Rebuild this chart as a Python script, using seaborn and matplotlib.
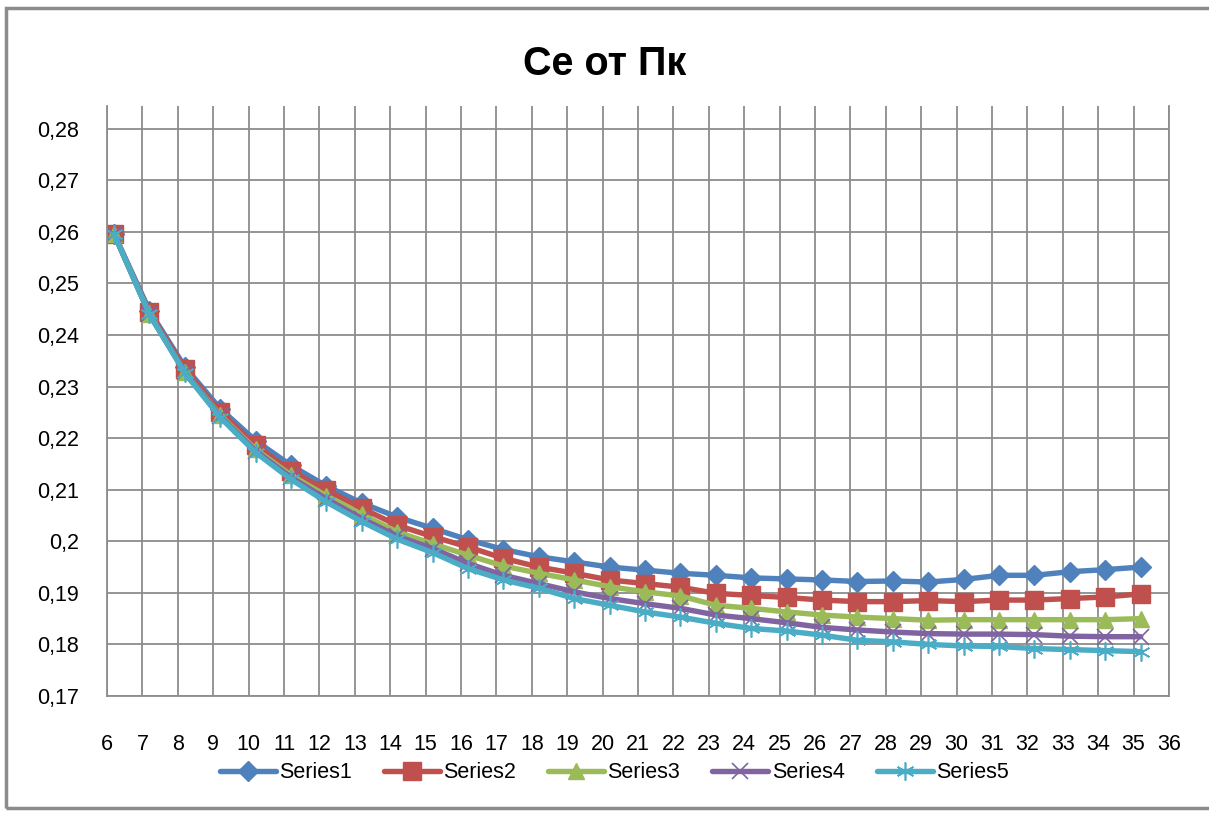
import numpy as np
import pandas as pd
import matplotlib
matplotlib.use("Agg")
import matplotlib.pyplot as plt
from matplotlib.lines import Line2D
from matplotlib.patches import Rectangle
import seaborn as sns

# ---- data ----
pk = [6.2, 7.2, 8.2, 9.2, 10.2, 11.2, 12.2, 13.2, 14.2, 15.2,
      16.2, 17.2, 18.2, 19.2, 20.2, 21.2, 22.2, 23.2, 24.2, 25.2,
      26.2, 27.2, 28.2, 29.2, 30.2, 31.2, 32.2, 33.2, 34.2, 35.2]

series1 = [0.2596, 0.2447, 0.2338, 0.2257, 0.2195, 0.2147, 0.2107, 0.2074, 0.2047, 0.2025,
           0.2003, 0.1984, 0.1970, 0.1960, 0.1950, 0.1944, 0.1938, 0.1934, 0.1929, 0.1927,
           0.1925, 0.1922, 0.1923, 0.1921, 0.1926, 0.1934, 0.1934, 0.1941, 0.1945, 0.1950]
series2 = [0.2596, 0.2444, 0.2334, 0.2250, 0.2186, 0.2136, 0.2099, 0.2064, 0.2031, 0.2009,
           0.1989, 0.1967, 0.1950, 0.1938, 0.1925, 0.1918, 0.1911, 0.1899, 0.1895, 0.1891,
           0.1886, 0.1883, 0.1883, 0.1885, 0.1883, 0.1886, 0.1886, 0.1889, 0.1892, 0.1898]
series3 = [0.2596, 0.2440, 0.2328, 0.2244, 0.2178, 0.2128, 0.2088, 0.2052, 0.2018, 0.1995,
           0.1973, 0.1952, 0.1938, 0.1925, 0.1912, 0.1902, 0.1894, 0.1876, 0.1870, 0.1863,
           0.1857, 0.1853, 0.1850, 0.1847, 0.1848, 0.1848, 0.1848, 0.1848, 0.1848, 0.1850]
series4 = [0.2596, 0.2440, 0.2328, 0.2242, 0.2175, 0.2124, 0.2082, 0.2044, 0.2010, 0.1986,
           0.1957, 0.1934, 0.1918, 0.1902, 0.1889, 0.1879, 0.1870, 0.1857, 0.1850, 0.1842,
           0.1833, 0.1828, 0.1824, 0.1821, 0.1820, 0.1820, 0.1819, 0.1816, 0.1815, 0.1815]
series5 = [0.2596, 0.2440, 0.2326, 0.2240, 0.2172, 0.2120, 0.2076, 0.2038, 0.2004, 0.1978,
           0.1947, 0.1925, 0.1909, 0.1889, 0.1876, 0.1863, 0.1853, 0.1841, 0.1831, 0.1826,
           0.1818, 0.1808, 0.1805, 0.1800, 0.1797, 0.1796, 0.1792, 0.1790, 0.1788, 0.1786]

series_names = ["Series1", "Series2", "Series3", "Series4", "Series5"]
x_ticks = list(range(6, 37))
y_ticks = [0.17, 0.18, 0.19, 0.20, 0.21, 0.22, 0.23, 0.24, 0.25, 0.26, 0.27, 0.28]
y_tick_labels = ["0,17", "0,18", "0,19", "0,2", "0,21", "0,22", "0,23",
                 "0,24", "0,25", "0,26", "0,27", "0,28"]
title = "Се от Пк"

# ---- styling ----
colors = ["#4F81BD", "#C0504D", "#9BBB59", "#8064A2", "#4BACC6"]
markers = ["D", "s", "^", "x", (6, 2, 0)]
msizes = [10, 12.5, 12, 11, 13]
mews = [1, 1, 1, 1.2, 1.2]

sns.set_theme(style="white")
plt.rcParams["font.family"] = ["Liberation Sans", "DejaVu Sans"]
plt.rcParams["text.color"] = "black"

fig = plt.figure(figsize=(12.09, 8.14), dpi=100)
ax = fig.add_axes([107 / 1209, 1 - 696 / 814, (1169 - 107) / 1209, (696 - 106) / 814])

all_values = [series1, series2, series3, series4, series5]
df = pd.DataFrame({
    "Pk": np.tile(pk, 5),
    "Ce": np.concatenate(all_values),
    "series": np.repeat(series_names, len(pk)),
})

handles = []
for name, col, mk, ms, mew in zip(series_names, colors, markers, msizes, mews):
    sub = df[df["series"] == name]
    sns.lineplot(data=sub, x="Pk", y="Ce", ax=ax, color=col, linewidth=3.9,
                 marker=mk, markersize=ms, markeredgecolor=col, markerfacecolor=col,
                 markeredgewidth=mew, legend=False, sort=False, estimator=None)
    handles.append(Line2D([0], [0], color=col, linewidth=3.9, marker=mk,
                          markersize=ms, markeredgecolor=col, markerfacecolor=col,
                          markeredgewidth=mew, label=name))

ax.set_xlim(6, 36)
ax.set_ylim(0.17, 0.2844)
ax.set_xticks(x_ticks)
ax.set_xticklabels([str(v) for v in x_ticks])
ax.set_yticks(y_ticks)
ax.set_yticklabels(y_tick_labels)
ax.set_xlabel("")
ax.set_ylabel("")

gcol = "#8C8C8C"
ax.grid(True, color=gcol, linewidth=1.3)
ax.set_axisbelow(True)
for s in ["left", "right", "bottom"]:
    ax.spines[s].set_color(gcol)
    ax.spines[s].set_linewidth(1.3)
ax.spines["top"].set_visible(False)
ax.tick_params(axis="both", length=0, labelsize=15.5, colors="black")
ax.tick_params(axis="x", pad=27)
ax.tick_params(axis="y", pad=20)

fig.text(0.5, 1 - 64 / 814, title, ha="center", va="center", color="black",
         fontsize=28.5, fontweight="bold",
         family=["Liberation Sans Narrow", "Liberation Sans", "DejaVu Sans"])

leg = fig.legend(handles=handles, loc="center", bbox_to_anchor=(0.508, 1 - 773 / 814),
                 ncol=5, frameon=False, handlelength=2.6,
                 columnspacing=1.5, handletextpad=0.15,
                 prop={"family": ["Liberation Sans", "DejaVu Sans"], "size": 15.5})
for t in leg.get_texts():
    t.set_color("black")

# outer chart border
fig.patches.append(Rectangle((6 / 1209, 6 / 814), 1.2, 1 - 14 / 814,
                             transform=fig.transFigure, fill=False,
                             edgecolor="#8C8C8C", linewidth=2.5))

fig.savefig("out.png", dpi=100)
